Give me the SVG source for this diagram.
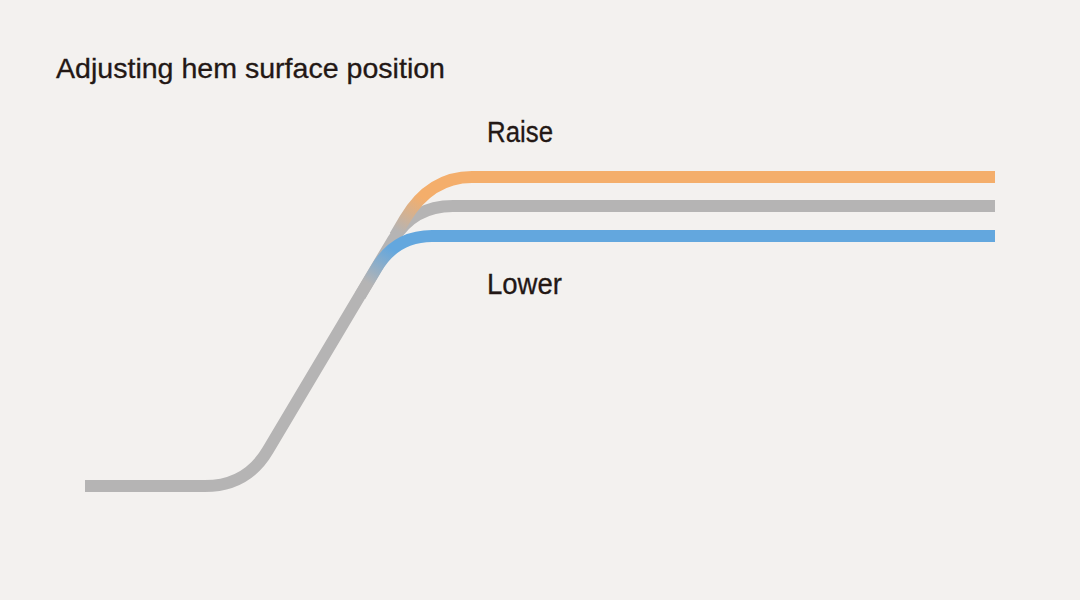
<svg xmlns="http://www.w3.org/2000/svg" width="1080" height="600" viewBox="0 0 1080 600">
<defs>
<style>
.t{font-family:"Liberation Sans",Arial,sans-serif;fill:#231815;stroke:#231815;stroke-width:0.3}
.ln{fill:none;stroke-width:12;stroke-linecap:butt;stroke-linejoin:round}
</style>
<linearGradient id="gOr" gradientUnits="userSpaceOnUse" x1="398" y1="232" x2="420" y2="196">
<stop offset="0" stop-color="#b5b4b4"/><stop offset="1" stop-color="#f4ae6b"/>
</linearGradient>
<linearGradient id="gBl" gradientUnits="userSpaceOnUse" x1="366" y1="282" x2="388" y2="246">
<stop offset="0" stop-color="#b5b4b4"/><stop offset="1" stop-color="#63a7de"/>
</linearGradient>
</defs>
<rect width="1080" height="600" fill="#f3f1ef"/>
<g id="title"><text class="t" x="56" y="78" font-size="28" textLength="389" lengthAdjust="spacingAndGlyphs">Adjusting hem surface position</text></g>
<g id="connectors">
<path id="base" class="ln" stroke="#b5b4b4" d="M85,486 H205 Q247,486 268,450 L393,240 Q413,206 453,206 H995"/>
<path id="raise-line" class="ln" stroke="url(#gOr)" d="M395,236 L405,219 Q430,177 472,177 H995"/>
<path id="lower-line" class="ln" stroke="url(#gBl)" d="M360,296 L376,269 Q395,236 432,236 H995"/>
</g>
<g id="raise"><text class="t" x="487" y="142" font-size="29" textLength="66" lengthAdjust="spacingAndGlyphs">Raise</text></g>
<g id="lower"><text class="t" x="487" y="294" font-size="29" textLength="75" lengthAdjust="spacingAndGlyphs">Lower</text></g>
</svg>
